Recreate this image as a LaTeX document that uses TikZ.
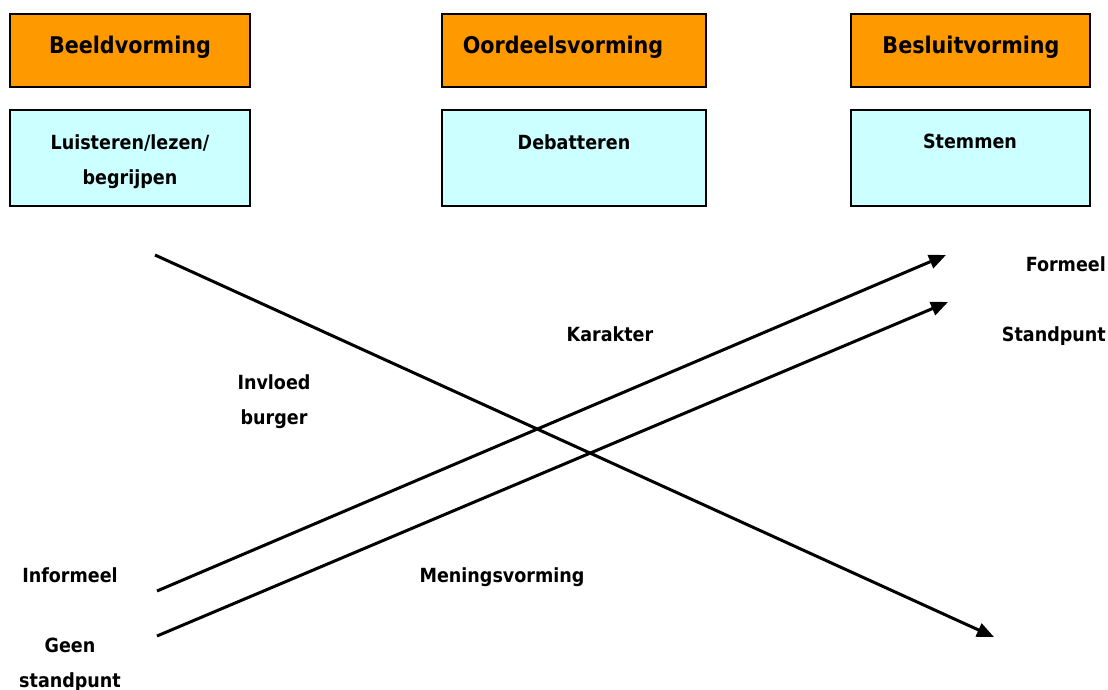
\documentclass[tikz,border=0pt]{standalone}
\usepackage{fontspec}
\setmainfont{DejaVu Sans Condensed}
\usetikzlibrary{arrows.meta}
\definecolor{hdrorange}{HTML}{FF9900}
\definecolor{actcyan}{HTML}{CCFFFF}
\begin{document}
\begin{tikzpicture}[x=1pt,y=-1pt,
  hdr/.style={draw=black,line width=1.6pt,fill=hdrorange,inner sep=0pt},
  act/.style={draw=black,line width=1.6pt,fill=actcyan,inner sep=0pt},
  htxt/.style={font=\bfseries\fontsize{23}{27}\selectfont,inner sep=0pt},
  ltxt/.style={font=\bfseries\fontsize{19.5}{35}\selectfont,inner sep=0pt,align=center},
  arr/.style={line width=3pt,-{Triangle[length=17pt,width=14pt]}}]
\useasboundingbox (0,0) rectangle (1108,690);
% header boxes
\node[hdr,minimum width=240pt,minimum height=73pt] (h1) at (130,50.5) {};
\node[hdr,minimum width=264pt,minimum height=73pt] (h2) at (574,50.5) {};
\node[hdr,minimum width=239pt,minimum height=73pt] (h3) at (970.5,50.5) {};
\node[htxt] (h1t) at (130,47) {Beeldvorming};
\node[htxt] (h2t) at (563,47) {Oordeelsvorming};
\node[htxt] (h3t) at (971,47) {Besluitvorming};
% activity boxes
\node[act,minimum width=240pt,minimum height=96pt] (a1) at (130,158) {};
\node[act,minimum width=264pt,minimum height=96pt] (a2) at (574,158) {};
\node[act,minimum width=239pt,minimum height=96pt] (a3) at (970.5,158) {};
\node[ltxt,anchor=north] (a1t) at (130,134) {Luisteren/lezen/\\begrijpen};
\node[ltxt,anchor=north] (a2t) at (574,134) {Debatteren};
\node[ltxt,anchor=north] (a3t) at (970,134) {Stemmen};
% labels
\node[ltxt,anchor=north east] (formeel) at (1106,256) {Formeel};
\node[ltxt,anchor=north east] (standpunt) at (1106,326) {Standpunt};
\node[ltxt,anchor=north] (karakter) at (610,326) {Karakter};
\node[ltxt,anchor=north] (invloed) at (274,374) {Invloed\\burger};
\node[ltxt,anchor=north] (informeel) at (70,567) {Informeel};
\node[ltxt,anchor=north] (mening) at (502,567) {Meningsvorming};
\node[ltxt,anchor=north] (geen) at (70,638) {Geen\\standpunt};
% arrows
\coordinate (s1) at (155,255);
\coordinate (e1) at (994,637);
\coordinate (s2) at (157,591);
\coordinate (e2) at (946,255);
\coordinate (s3) at (157,636);
\coordinate (e3) at (948,302);
\draw[arr] (s1) -- (e1);
\draw[arr] (s2) -- (e2);
\draw[arr] (s3) -- (e3);
\end{tikzpicture}
\end{document}
